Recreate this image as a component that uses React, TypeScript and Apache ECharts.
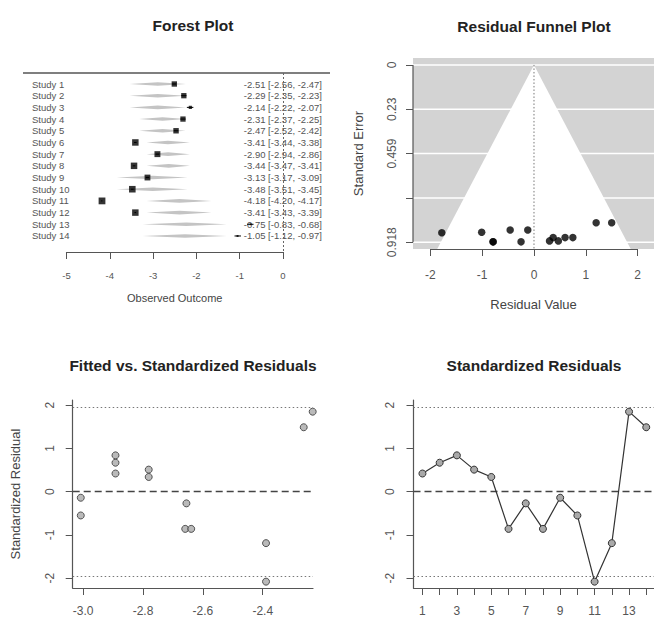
import React, { useEffect, useRef } from "react";
import * as echarts from "echarts";

// ---------- data ----------
const studyNames = [
  "Study 1", "Study 2", "Study 3", "Study 4", "Study 5", "Study 6", "Study 7",
  "Study 8", "Study 9", "Study 10", "Study 11", "Study 12", "Study 13", "Study 14",
];
const observedEst = [-2.51, -2.29, -2.14, -2.31, -2.47, -3.41, -2.9, -3.44, -3.13, -3.48, -4.18, -3.41, -0.75, -1.05];
const ciLower = [-2.56, -2.35, -2.22, -2.37, -2.52, -3.44, -2.94, -3.47, -3.17, -3.51, -4.2, -3.43, -0.83, -1.12];
const ciUpper = [-2.47, -2.23, -2.07, -2.25, -2.42, -3.38, -2.86, -3.41, -3.09, -3.45, -4.17, -3.39, -0.68, -0.97];
const studyWeights = [7.2, 7.0, 2.6, 7.0, 7.4, 10.5, 8.8, 10.5, 8.5, 10.8, 11.5, 10.5, 0.9, 1.0];
const fittedValues = [-2.892, -2.892, -2.892, -2.781, -2.781, -2.659, -2.655, -2.639, -3.008, -3.008, -2.389, -2.389, -2.233, -2.263];
const fitLower = [-3.54, -3.54, -3.54, -3.32, -3.32, -3.15, -3.15, -3.15, -3.84, -3.84, -3.15, -3.15, -3.24, -3.24];
const fitUpper = [-2.24, -2.24, -2.24, -2.25, -2.25, -2.15, -2.15, -2.15, -2.2, -2.2, -1.65, -1.65, -1.3, -1.3];
const stdResiduals = [0.42, 0.67, 0.84, 0.51, 0.34, -0.86, -0.27, -0.86, -0.14, -0.55, -2.08, -1.19, 1.85, 1.49];
const funnelResid = [0.37, 0.6, 0.75, 0.47, 0.3, -0.79, -0.25, -0.79, -0.12, -0.46, -1.78, -1.01, 1.5, 1.2];
const funnelSe = [0.894, 0.894, 0.894, 0.911, 0.911, 0.916, 0.916, 0.916, 0.855, 0.855, 0.869, 0.866, 0.817, 0.817];

const forestTicks = [-5, -4, -3, -2, -1, 0];
const funnelResidTicks = [-2, -1, 0, 1, 2];
const funnelSeTicks = [0, 0.23, 0.459, 0.689, 0.918];
const funnelSeLabelTicks = [0, 0.23, 0.459, 0.918];
const fittedTicks = [-3.0, -2.8, -2.6, -2.4];
const stdResTicks = [-2, -1, 0, 1, 2];
const studyIndexTicks = [1, 2, 3, 4, 5, 6, 7, 8, 9, 10, 11, 12, 13, 14];
const studyIndexLabels = [1, 3, 5, 7, 9, 11, 13];
const critValue = 1.96;

// ---------- style ----------
const FONT = "'Liberation Sans', Arial, Helvetica, sans-serif";
const AX = "#555";
const LBL = "#555";
const NAME = "#444";

const FUNNEL_X = [-2.336, 2.317];
const FUNNEL_Y = [-0.036, 0.953];

const titleOf = (text: string, x: number, y: number) => ({
  text,
  left: x,
  top: y,
  padding: 0,
  textAlign: "center",
  textVerticalAlign: "middle",
  textStyle: { fontFamily: FONT, fontSize: 15.5, fontWeight: "bold", color: "#222" },
});

const refLines = [
  { yAxis: critValue, lineStyle: { type: [1.5, 2.5], color: "#777", width: 1.2 } },
  { yAxis: -critValue, lineStyle: { type: [1.5, 2.5], color: "#777", width: 1.2 } },
  { yAxis: 0, lineStyle: { type: [7, 4], color: "#444", width: 1.3 } },
];

function buildOption() {
  const studyPts = observedEst.map((e, i) => [e, i + 1]);
  return {
    animation: false,
    textStyle: { fontFamily: FONT },
    title: [
      titleOf("Forest Plot", 193, 25),
      titleOf("Residual Funnel Plot", 534, 26),
      titleOf("Fitted vs. Standardized Residuals", 193, 365),
      titleOf("Standardized Residuals", 534, 365),
    ],
    grid: [
      { left: 66.5, top: 73, width: 216.5, height: 179, outerBoundsMode: "none" },
      { left: 413, top: 58, width: 241, height: 191, show: true, backgroundColor: "#d3d3d3", borderWidth: 0, outerBoundsMode: "none" },
      { left: 72.7, top: 400, width: 240.3, height: 188, outerBoundsMode: "none" },
      { left: 413.5, top: 400, width: 241.7, height: 188, outerBoundsMode: "none" },
    ],
    xAxis: [
      {
        gridIndex: 0, type: "value", min: -5, max: 0, position: "bottom",
        axisLine: { show: true, onZero: false, lineStyle: { color: AX, width: 1.2 } },
        axisTick: { show: true, length: 7, customValues: forestTicks, lineStyle: { color: AX } },
        axisLabel: { customValues: forestTicks, margin: 18, fontSize: 9.5, color: LBL, formatter: (v: number) => String(v) },
        splitLine: { show: false },
        name: "Observed Outcome", nameLocation: "middle", nameGap: 40,
        nameTextStyle: { fontSize: 11, color: NAME, fontFamily: FONT },
      },
      {
        gridIndex: 1, type: "value", min: FUNNEL_X[0], max: FUNNEL_X[1], position: "bottom",
        axisLine: { show: false, onZero: false },
        axisTick: { show: true, length: 7, customValues: funnelResidTicks, lineStyle: { color: AX } },
        axisLabel: { customValues: funnelResidTicks, margin: 20, fontSize: 12, color: LBL, formatter: (v: number) => String(v) },
        splitLine: { show: false },
        name: "Residual Value", nameLocation: "middle", nameGap: 49,
        nameTextStyle: { fontSize: 13, color: NAME, fontFamily: FONT },
      },
      {
        gridIndex: 2, type: "value", min: -3.035, max: -2.232, position: "bottom",
        axisLine: { show: true, onZero: false, lineStyle: { color: AX, width: 1.2 } },
        axisTick: { show: true, length: 7, customValues: fittedTicks, lineStyle: { color: AX } },
        axisLabel: { customValues: fittedTicks, margin: 17, fontSize: 12, color: LBL, formatter: (v: number) => v.toFixed(1) },
        splitLine: { show: false },
      },
      {
        gridIndex: 3, type: "value", min: 0.48, max: 14.52, position: "bottom",
        axisLine: { show: true, onZero: false, lineStyle: { color: AX, width: 1.2 } },
        axisTick: { show: true, length: 7, customValues: studyIndexTicks, lineStyle: { color: AX } },
        axisLabel: { customValues: studyIndexLabels, margin: 17, fontSize: 12, color: LBL, formatter: (v: number) => String(v) },
        splitLine: { show: false },
      },
    ],
    yAxis: [
      {
        gridIndex: 0, type: "value", min: 0.059, max: 15.37, inverse: true, position: "left",
        axisLine: { show: false, onZero: false }, axisTick: { show: false }, splitLine: { show: false },
        axisLabel: {
          customValues: studyIndexTicks, align: "left", margin: 34.5, fontSize: 9.5, color: LBL,
          formatter: (v: number) => studyNames[Math.round(v) - 1] || "",
        },
      },
      {
        gridIndex: 0, type: "value", position: "right", min: 0.059, max: 15.37, inverse: true,
        axisLine: { show: false, onZero: false }, axisTick: { show: false }, splitLine: { show: false },
        axisLabel: {
          customValues: studyIndexTicks, align: "right", margin: 39, fontSize: 9.5, color: LBL,
          formatter: (v: number) => {
            const i = Math.round(v) - 1;
            if (i < 0 || i >= observedEst.length) return "";
            return `${observedEst[i].toFixed(2)} [${ciLower[i].toFixed(2)}, ${ciUpper[i].toFixed(2)}]`;
          },
        },
      },
      {
        gridIndex: 1, type: "value", min: FUNNEL_Y[0], max: FUNNEL_Y[1], inverse: true, position: "left",
        axisLine: { show: false, onZero: false },
        axisTick: { show: true, length: 7, customValues: funnelSeTicks, lineStyle: { color: AX } },
        axisLabel: { customValues: funnelSeLabelTicks, rotate: 90, margin: 15, fontSize: 12, color: LBL, formatter: (v: number) => String(v) },
        splitLine: { show: false },
        name: "Standard Error", nameLocation: "middle", nameGap: 48.5, nameRotate: 90,
        nameTextStyle: { fontSize: 13, color: NAME, fontFamily: FONT },
      },
      {
        gridIndex: 2, type: "value", min: -2.227, max: 2.12, position: "left",
        axisLine: { show: true, onZero: false, lineStyle: { color: AX, width: 1.2 } },
        axisTick: { show: true, length: 7, customValues: stdResTicks, lineStyle: { color: AX } },
        axisLabel: { customValues: stdResTicks, rotate: 90, margin: 16.7, fontSize: 12, color: LBL, formatter: (v: number) => String(v) },
        splitLine: { show: false },
        name: "Standardized Residual", nameLocation: "middle", nameGap: 51, nameRotate: 90,
        nameTextStyle: { fontSize: 13, color: NAME, fontFamily: FONT },
      },
      {
        gridIndex: 3, type: "value", min: -2.227, max: 2.12, position: "left",
        axisLine: { show: true, onZero: false, lineStyle: { color: AX, width: 1.2 } },
        axisTick: { show: true, length: 7, customValues: stdResTicks, lineStyle: { color: AX } },
        axisLabel: { customValues: stdResTicks, rotate: 90, margin: 17.5, fontSize: 12, color: LBL, formatter: (v: number) => String(v) },
        splitLine: { show: false },
      },
    ],
    graphic: [
      { type: "line", shape: { x1: 23, y1: 73, x2: 330, y2: 73 }, style: { stroke: AX, lineWidth: 1.5 }, silent: true },
    ],
    series: [
      // forest: fitted-value polygons and CI lines
      {
        type: "custom", xAxisIndex: 0, yAxisIndex: 0, z: 2, silent: true,
        data: studyPts,
        renderItem: (params: any, api: any) => {
          const i = params.dataIndex;
          const k = i + 1;
          const l = api.coord([fitLower[i], k]);
          const c = api.coord([fittedValues[i], k]);
          const r = api.coord([fitUpper[i], k]);
          const h = 1.8;
          const a = api.coord([ciLower[i], k]);
          const b = api.coord([ciUpper[i], k]);
          return {
            type: "group",
            children: [
              {
                type: "polygon",
                shape: { points: [[l[0], l[1]], [c[0], c[1] - h], [r[0], r[1]], [c[0], c[1] + h]] },
                style: { fill: "#c4c4c4" },
              },
              { type: "line", shape: { x1: a[0], y1: a[1], x2: b[0], y2: b[1] }, style: { stroke: "#000", lineWidth: 1 } },
            ],
          };
        },
      },
      // forest: observed squares + reference line
      {
        type: "scatter", xAxisIndex: 0, yAxisIndex: 0, z: 5, silent: true,
        data: studyPts,
        symbol: "rect",
        symbolSize: (_v: any, p: any) => 2 * Math.sqrt(studyWeights[p.dataIndex]),
        itemStyle: { color: "#000" },
        markLine: {
          silent: true, symbol: ["none", "none"], label: { show: false },
          data: [{ xAxis: 0, lineStyle: { type: [2, 2], color: "#666", width: 1 } }],
        },
      },
      // funnel: white grid lines
      {
        type: "custom", xAxisIndex: 1, yAxisIndex: 2, z: 1, silent: true,
        data: funnelSeTicks.map((v) => [0, v]),
        renderItem: (params: any, api: any) => {
          const v = funnelSeTicks[params.dataIndex];
          const p1 = api.coord([FUNNEL_X[0], v]);
          const p2 = api.coord([FUNNEL_X[1], v]);
          return { type: "line", shape: { x1: p1[0], y1: p1[1], x2: p2[0], y2: p2[1] }, style: { stroke: "#fff", lineWidth: 1.5 } };
        },
      },
      // funnel: white region + dotted centre line
      {
        type: "custom", xAxisIndex: 1, yAxisIndex: 2, z: 2, silent: true,
        data: [[0, 0]],
        renderItem: (_params: any, api: any) => {
          const ymax = FUNNEL_Y[1];
          const apex = api.coord([0, 0]);
          const bl = api.coord([-critValue * ymax, ymax]);
          const br = api.coord([critValue * ymax, ymax]);
          return {
            type: "group",
            children: [
              { type: "polygon", shape: { points: [apex, bl, br] }, style: { fill: "#fff" } },
              { type: "line", shape: { x1: apex[0], y1: apex[1], x2: apex[0], y2: bl[1] }, style: { stroke: "#777", lineWidth: 1, lineDash: [1.5, 2] } },
            ],
          };
        },
      },
      // funnel: points
      {
        type: "scatter", xAxisIndex: 1, yAxisIndex: 2, z: 4, silent: true,
        data: funnelResid.map((r, i) => [r, funnelSe[i]]),
        symbol: "circle", symbolSize: 7.5,
        itemStyle: { color: "#000" },
      },
      // funnel: R-style axis lines spanning ticks only
      {
        type: "custom", xAxisIndex: 1, yAxisIndex: 2, z: 6, silent: true,
        data: [[0, 0]],
        renderItem: (_params: any, api: any) => {
          const x1 = api.coord([funnelResidTicks[0], FUNNEL_Y[1]]);
          const x2 = api.coord([funnelResidTicks[funnelResidTicks.length - 1], FUNNEL_Y[1]]);
          const y1 = api.coord([FUNNEL_X[0], funnelSeTicks[0]]);
          const y2 = api.coord([FUNNEL_X[0], funnelSeTicks[funnelSeTicks.length - 1]]);
          return {
            type: "group",
            children: [
              { type: "line", shape: { x1: x1[0], y1: x1[1] + 0.5, x2: x2[0], y2: x2[1] + 0.5 }, style: { stroke: AX, lineWidth: 1.2 } },
              { type: "line", shape: { x1: y1[0], y1: y1[1], x2: y2[0], y2: y2[1] }, style: { stroke: AX, lineWidth: 1.2 } },
            ],
          };
        },
      },
      // fitted vs standardized residuals
      {
        type: "scatter", xAxisIndex: 2, yAxisIndex: 3, z: 5, silent: true, clip: false,
        data: fittedValues.map((f, i) => [f, stdResiduals[i]]),
        symbol: "circle", symbolSize: 7,
        itemStyle: { color: "#a9a9a9", borderColor: "#333", borderWidth: 1 },
        markLine: { silent: true, symbol: ["none", "none"], label: { show: false }, data: refLines },
      },
      // standardized residuals by study
      {
        type: "line", xAxisIndex: 3, yAxisIndex: 4, z: 5, silent: true, clip: false,
        data: stdResiduals.map((v, i) => [i + 1, v]),
        symbol: "circle", symbolSize: 7, showSymbol: true,
        lineStyle: { color: "#333", width: 1.2 },
        itemStyle: { color: "#a9a9a9", borderColor: "#333", borderWidth: 1 },
        markLine: { silent: true, symbol: ["none", "none"], label: { show: false }, data: refLines },
      },
    ],
  };
}

export default function App() {
  const ref = useRef<HTMLDivElement>(null);
  useEffect(() => {
    if (!ref.current) return;
    const chart = echarts.init(ref.current, undefined, { renderer: "svg" });
    chart.setOption(buildOption() as any);
    return () => chart.dispose();
  }, []);
  return (
    <div
      ref={ref}
      style={{ position: "fixed", left: 0, top: 0, width: 654, height: 619, background: "#fff" }}
    />
  );
}
